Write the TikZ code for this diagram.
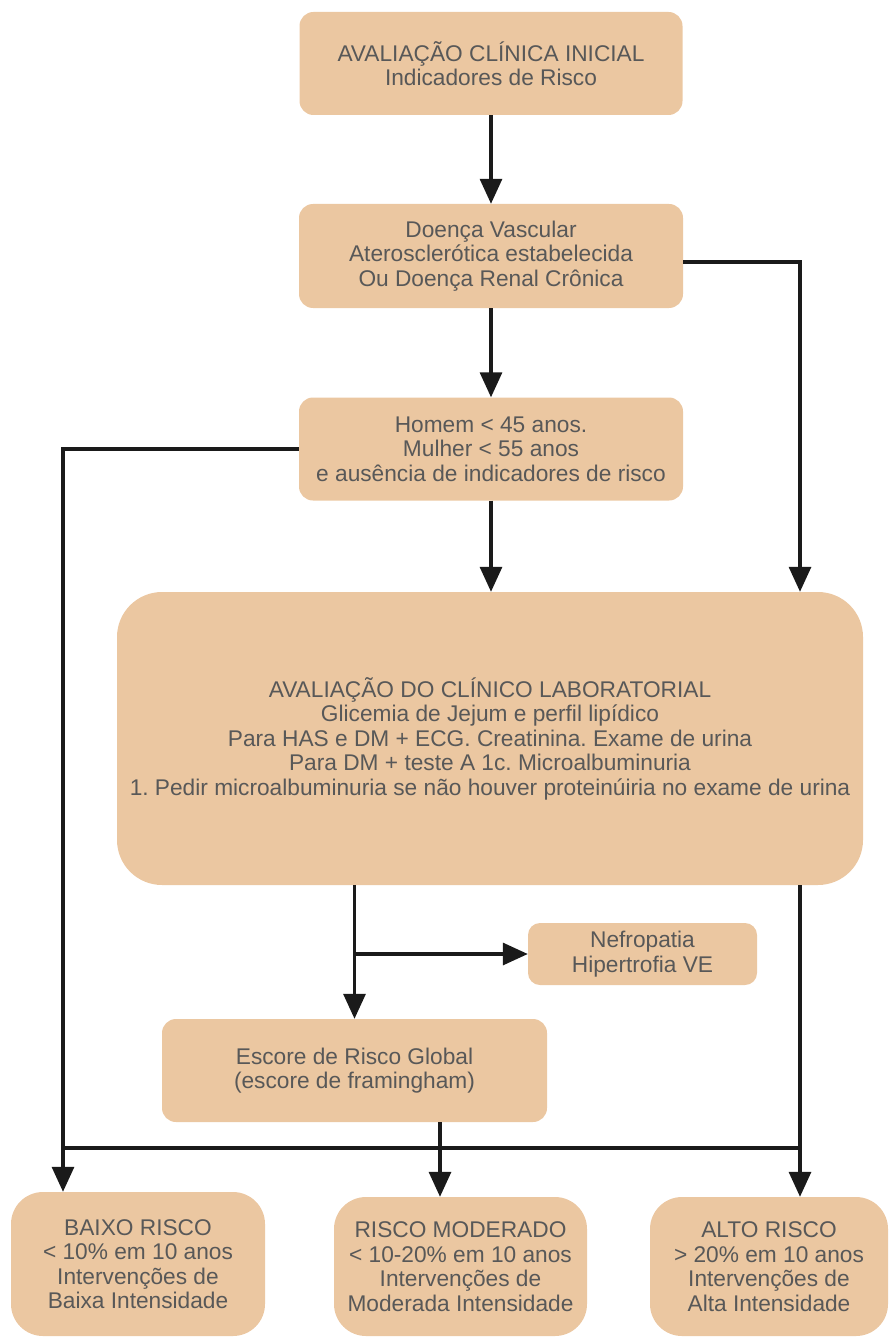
\documentclass[tikz,border=0pt]{standalone}
\usepackage{fontspec}
\setmainfont{Liberation Sans}
\usetikzlibrary{arrows.meta,positioning}
\definecolor{boxfill}{RGB}{235,199,161}
\definecolor{txtgray}{RGB}{88,88,88}
\definecolor{linedark}{RGB}{26,26,26}
\frenchspacing

\begin{document}
\begin{tikzpicture}[x=1pt,y=-1pt,>={Triangle[length=25pt,width=22pt]},
    box/.style={fill=boxfill,text=txtgray,rounded corners=14pt,align=center,inner sep=0pt,
        font=\fontsize{22.7}{24.5}\selectfont},
    flow/.style={draw=linedark,line width=3.2pt}]
    \useasboundingbox (0,0) rectangle (894,1337);

    % main column
    \node (inicial) [box,minimum width=383pt,minimum height=103pt] at (491,63.5)
        {AVALIAÇÃO CLÍNICA INICIAL\\Indicadores de Risco};
    \node (vascular) [box,minimum width=384pt,minimum height=104pt] at (491,256)
        {Doença Vascular\\Aterosclerótica estabelecida\\Ou Doença Renal Crônica};
    \node (homem) [box,minimum width=384pt,minimum height=103pt] at (491,449)
        {Homem < 45 anos.\\Mulher < 55 anos\\e ausência de indicadores de risco};
    \node (lab) [box,rounded corners=45pt,minimum width=746pt,minimum height=293pt] at (490,738.5)
        {AVALIAÇÃO DO CLÍNICO LABORATORIAL\\Glicemia de Jejum e perfil lipídico\\
         Para HAS e DM + ECG. Creatinina. Exame de urina\\Para DM + teste A 1c. Microalbuminuria\\
         1. Pedir microalbuminuria se não houver proteinúiria no exame de urina};
    \node (nefro) [box,rounded corners=12pt,minimum width=229pt,minimum height=62pt] at (642.5,954)
        {Nefropatia\\Hipertrofia VE};
    \node (escore) [box,minimum width=385pt,minimum height=103pt] at (354.5,1070.5)
        {Escore de Risco Global\\(escore de framingham)};

    % results
    \node (baixo) [box,rounded corners=32pt,minimum width=254pt,minimum height=144pt] at (138,1264)
        {BAIXO RISCO\\< 10\% em 10 anos\\Intervenções de\\Baixa Intensidade};
    \node (moderado) [box,rounded corners=32pt,minimum width=253pt,minimum height=139pt] at (460.5,1266.5)
        {RISCO MODERADO\\< 10-20\% em 10 anos\\Intervenções de\\Moderada Intensidade};
    \node (alto) [box,rounded corners=32pt,minimum width=238pt,minimum height=139pt] at (769,1266.5)
        {ALTO RISCO\\> 20\% em 10 anos\\Intervenções de\\Alta Intensidade};

    % trunks
    \coordinate (ltrunk) at (63,0);
    \coordinate (mtrunk) at (440,0);
    \coordinate (rtrunk) at (800,0);
    \coordinate (bus) at (0,1148);

    \draw[flow,->] (inicial.south) -- (vascular.north);
    \draw[flow,->] (vascular.south) -- (homem.north);
    \draw[flow,->] (homem.south) -- (homem.south |- lab.north);
    \draw[flow,->] ([yshift=-6pt]vascular.east) -- ([yshift=-6pt]vascular.east -| rtrunk) -- (rtrunk |- lab.north);
    \draw[flow,->] (homem.west) -- (homem.west -| ltrunk) -- (ltrunk |- baixo.north);
    \draw[flow,->] (lab.south -| escore.north) -- (escore.north);
    \draw[flow,->] (escore.north |- nefro.west) -- (nefro.west);
    \draw[flow,->] (lab.south -| rtrunk) -- (rtrunk |- alto.north);
    \draw[flow,->] (escore.south -| mtrunk) -- (mtrunk |- moderado.north);
    \draw[flow] (ltrunk |- bus) -- (rtrunk |- bus);
\end{tikzpicture}
\end{document}
